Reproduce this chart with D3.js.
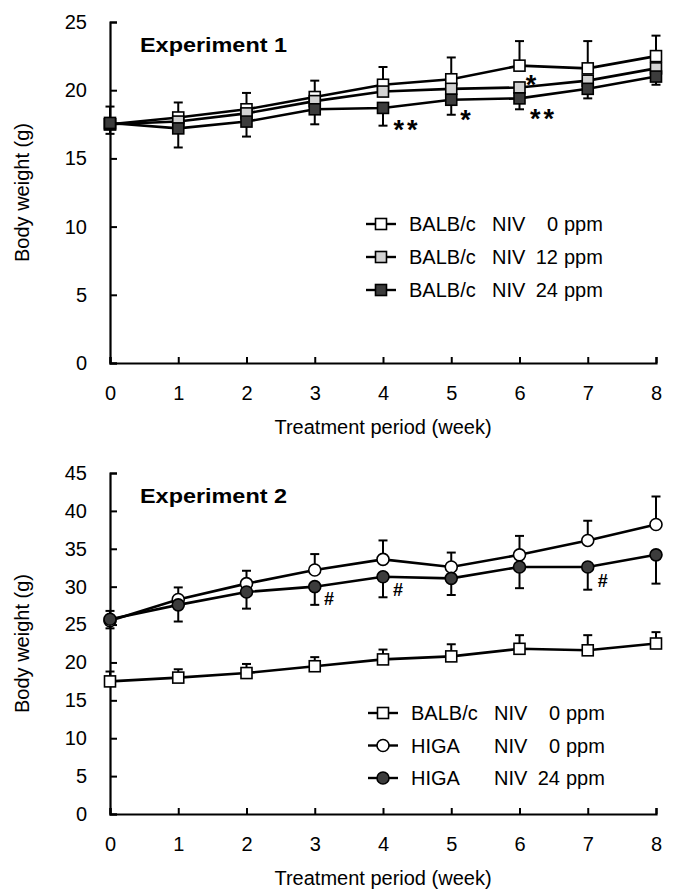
<!DOCTYPE html>
<html><head><meta charset="utf-8">
<script src="https://cdn.jsdelivr.net/npm/d3@7"></script>
<style>body{margin:0;background:#fff}</style></head>
<body><svg id="chart" width="673" height="895"></svg>
<script>
// ---------- data ----------
const weeks = [0, 1, 2, 3, 4, 5, 6, 7, 8];
const xTicks = [0, 1, 2, 3, 4, 5, 6, 7, 8];
const yTicks1 = [0, 5, 10, 15, 20, 25];
const yTicks2 = [0, 5, 10, 15, 20, 25, 30, 35, 40, 45];

// Experiment 1
const balb0 = [17.5, 18.0, 18.6, 19.5, 20.4, 20.8, 21.8, 21.6, 22.5];
const balb0ErrUp = [1.3, 1.1, 1.2, 1.2, 1.3, 1.6, 1.8, 2.0, 1.5];
const balb12 = [17.5, 17.7, 18.3, 19.2, 19.9, 20.1, 20.2, 20.7, 21.6];
const balb24 = [17.6, 17.2, 17.7, 18.6, 18.7, 19.3, 19.4, 20.1, 21.0];
const balb24ErrDown = [0.8, 1.4, 1.1, 1.1, 1.3, 1.1, 0.8, 0.7, 0.6];

// Experiment 2
const higa0 = [25.5, 28.3, 30.4, 32.2, 33.6, 32.6, 34.2, 36.1, 38.2];
const higa0ErrUp = [1.3, 1.6, 1.7, 2.1, 2.5, 1.9, 2.5, 2.6, 3.7];
const higa24 = [25.7, 27.6, 29.3, 30.0, 31.3, 31.1, 32.6, 32.6, 34.2];
const higa24ErrDown = [1.2, 2.2, 2.2, 2.4, 2.7, 2.2, 2.8, 3.0, 3.8];

// legend labels: [strain, compound, dose, unit]
const legend1 = [["BALB/c", "NIV", "0", "ppm"], ["BALB/c", "NIV", "12", "ppm"], ["BALB/c", "NIV", "24", "ppm"]];
const legend2 = [["BALB/c", "NIV", "0", "ppm"], ["HIGA", "NIV", "0", "ppm"], ["HIGA", "NIV", "24", "ppm"]];

// significance marks (week position, weight, label)
const sigWeeks1 = [4.35, 5.23, 6.19, 6.35];
const sigValues1 = [17.6, 18.3, 20.9, 18.4];
const sigLabels1 = ["**", "*", "*", "**"];
const sigWeeks2 = [3.21, 4.22, 7.22];
const sigValues2 = [28.4, 29.5, 30.8];
const sigLabels2 = ["#", "#", "#"];

const titles = ["Experiment 1", "Experiment 2"];
const xTitle = "Treatment period (week)";
const yTitle = "Body weight (g)";

// ---------- drawing ----------
const FONT = "'Liberation Sans', Arial, Helvetica, sans-serif";
const svg = d3.select("#chart");
svg.append("rect").attr("width", 673).attr("height", 895).attr("fill", "#fff");

const DARK = "#3c3c3c", LIGHT = "#d2d2d2", WHITE = "#fff";

function drawPanel(cfg) {
  const x = d3.scaleLinear().domain([0, 8]).range([110, 656]);
  const y = d3.scaleLinear().domain(cfg.yDomain).range([cfg.bottom, cfg.top]);
  const g = svg.append("g");

  // axes
  const ya = g.append("g").attr("transform", `translate(${x(0)},0)`)
    .call(d3.axisLeft(y).tickValues(cfg.yTicks).tickSize(-7).tickSizeOuter(-7).tickPadding(23));
  const xa = g.append("g").attr("transform", `translate(0,${y(0)})`)
    .call(d3.axisBottom(x).tickValues(xTicks).tickFormat(d3.format("d")).tickSize(-6).tickSizeOuter(-6).tickPadding(23));
  [ya, xa].forEach(a => {
    a.select(".domain").attr("stroke", "#000").attr("stroke-width", 2.2);
    a.selectAll(".tick line").attr("stroke", "#000").attr("stroke-width", 2);
    a.selectAll(".tick text").attr("font-family", FONT).attr("font-size", 20).attr("fill", "#000");
  });

  // titles
  g.append("text").attr("x", 140).attr("y", cfg.top + 30)
    .attr("font-family", FONT).attr("font-size", 21).attr("font-weight", "bold")
    .attr("textLength", 147).attr("lengthAdjust", "spacingAndGlyphs")
    .text(cfg.title);
  g.append("text").attr("x", x(4)).attr("y", y(0) + 71)
    .attr("text-anchor", "middle").attr("font-family", FONT).attr("font-size", 20)
    .text(xTitle);
  g.append("text")
    .attr("transform", `translate(29,${(cfg.top + cfg.bottom) / 2}) rotate(-90)`)
    .attr("text-anchor", "middle").attr("font-family", FONT).attr("font-size", 20)
    .text(yTitle);

  // error bars
  const capW = 4.5;
  cfg.series.forEach(s => {
    (s.errUp ? [[s.errUp, 1]] : []).concat(s.errDown ? [[s.errDown, -1]] : []).forEach(([err, dir]) => {
      const eg = g.append("g").attr("stroke", "#000").attr("stroke-width", 2);
      weeks.forEach((w, i) => {
        const v = s.values[i], e = v + dir * err[i];
        eg.append("line").attr("x1", x(w)).attr("x2", x(w)).attr("y1", y(v)).attr("y2", y(e));
        eg.append("line").attr("x1", x(w) - capW).attr("x2", x(w) + capW).attr("y1", y(e)).attr("y2", y(e));
      });
    });
  });

  // lines
  const line = d3.line().x((d, i) => x(weeks[i])).y(d => y(d));
  cfg.series.forEach(s => {
    g.append("path").attr("d", line(s.values)).attr("fill", "none")
      .attr("stroke", "#000").attr("stroke-width", 2.6);
  });

  // markers
  function marker(sel, shape, fill, cx, cy) {
    if (shape === "square") {
      sel.append("rect").attr("x", cx - 5.5).attr("y", cy - 5.5).attr("width", 11).attr("height", 11)
        .attr("fill", fill).attr("stroke", "#000").attr("stroke-width", 1.6);
    } else {
      sel.append("circle").attr("cx", cx).attr("cy", cy).attr("r", 6)
        .attr("fill", fill).attr("stroke", "#000").attr("stroke-width", 1.6);
    }
  }
  cfg.series.forEach(s => {
    const mg = g.append("g");
    s.values.forEach((v, i) => marker(mg, s.shape, s.fill, x(weeks[i]), y(v)));
  });

  // significance marks
  cfg.sigLabels.forEach((lab, i) => {
    const isStar = lab.indexOf("*") >= 0;
    g.append("text").attr("x", x(cfg.sigWeeks[i])).attr("y", y(cfg.sigValues[i]) + (isStar ? 16 : 6))
      .attr("text-anchor", "middle").attr("font-family", FONT)
      .attr("font-size", isStar ? 27 : 18).attr("font-weight", "bold")
      .attr("letter-spacing", isStar ? 3 : 0)
      .text(lab);
  });

  // legend
  const lx = cfg.legendX;
  cfg.legend.forEach((lab, i) => {
    const s = cfg.series[cfg.legendOrder[i]];
    const ly = cfg.legendY + i * cfg.legendStep;
    const lg = g.append("g");
    lg.append("line").attr("x1", lx - 15).attr("x2", lx + 15).attr("y1", ly).attr("y2", ly)
      .attr("stroke", "#000").attr("stroke-width", 2.4);
    marker(lg, s.shape, s.fill, lx, ly);
    const t = lg.append("text").attr("y", ly).attr("dy", "0.36em")
      .attr("font-family", FONT).attr("font-size", 20);
    t.append("tspan").attr("x", lx + 28).text(lab[0]);
    t.append("tspan").attr("x", lx + 111).text(lab[1]);
    t.append("tspan").attr("x", lx + 177).attr("text-anchor", "end").text(lab[2]);
    t.append("tspan").attr("x", lx + 183).text(lab[3]);
  });
}

drawPanel({
  yDomain: [0, 25], yTicks: yTicks1, top: 22, bottom: 363, title: titles[0],
  series: [
    { values: balb0, errUp: balb0ErrUp, shape: "square", fill: WHITE },
    { values: balb12, shape: "square", fill: LIGHT },
    { values: balb24, errDown: balb24ErrDown, shape: "square", fill: DARK }
  ],
  legend: legend1, legendOrder: [0, 1, 2], legendX: 381, legendY: 224, legendStep: 33,
  sigWeeks: sigWeeks1, sigValues: sigValues1, sigLabels: sigLabels1
});

drawPanel({
  yDomain: [0, 45], yTicks: yTicks2, top: 473, bottom: 814, title: titles[1],
  series: [
    { values: balb0, errUp: balb0ErrUp, shape: "square", fill: WHITE },
    { values: higa0, errUp: higa0ErrUp, shape: "circle", fill: WHITE },
    { values: higa24, errDown: higa24ErrDown, shape: "circle", fill: DARK }
  ],
  legend: legend2, legendOrder: [0, 1, 2], legendX: 383, legendY: 713, legendStep: 32.5,
  sigWeeks: sigWeeks2, sigValues: sigValues2, sigLabels: sigLabels2
});
</script>
</body></html>
